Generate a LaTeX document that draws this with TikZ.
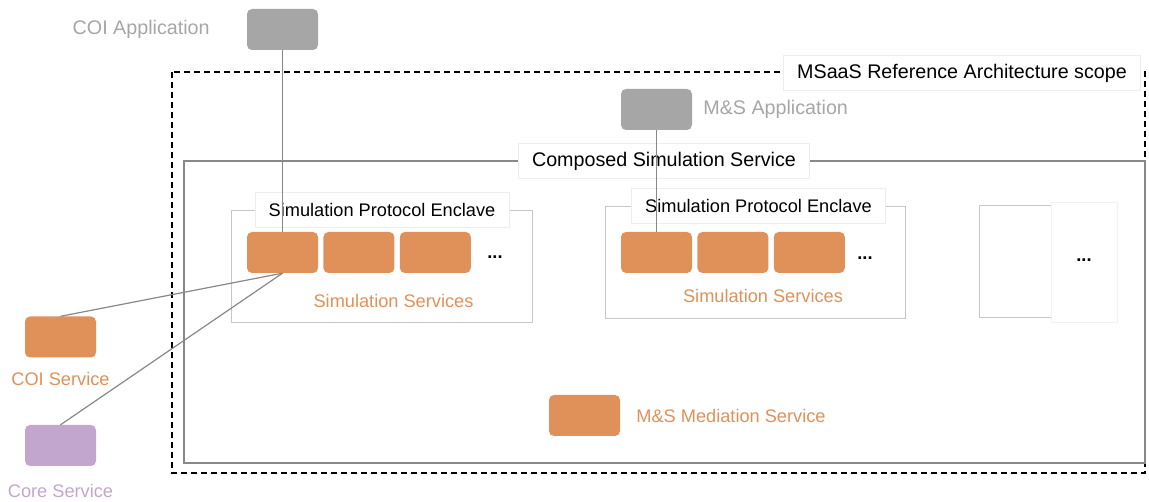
\documentclass[tikz,border=0pt]{standalone}
\usepackage{fontspec}
\setmainfont{Liberation Sans}
\usetikzlibrary{positioning}

\definecolor{simorange}{RGB}{224,145,90}
\definecolor{appgray}{RGB}{166,166,166}
\definecolor{corepurple}{RGB}{195,166,205}
\definecolor{linegray}{RGB}{136,136,136}

\begin{document}
\begin{tikzpicture}[x=1pt, y=-1pt, every node/.style={font=\fontsize{18.2}{22}\selectfont},
      big/.style={font=\fontsize{19.7}{23}\selectfont},
      svc/.style={rectangle, rounded corners=5pt, minimum width=71pt, minimum height=41pt, inner sep=0pt, fill=simorange},
      app/.style={svc, fill=appgray},
      core/.style={svc, fill=corepurple},
      tag/.style={rectangle, fill=white, draw=black!7, line width=0.6pt, minimum height=35pt, inner xsep=13.5pt},
      caption/.style={inner sep=0pt},
      enclave/.style={draw=black!22, line width=0.8pt},
      link/.style={draw=linegray, line width=1.2pt}]

    \useasboundingbox (0,0) rectangle (1149,502);

    % scopes
    \draw[black, line width=1.5pt, dash pattern=on 6pt off 4pt] (172,72) rectangle (1145,473);
    \draw[linegray, line width=1.5pt] (184,161) rectangle (1145,463);
    \draw[enclave] (231,210) rectangle (532,322);
    \draw[enclave] (605,206) rectangle (905,318);
    \draw[enclave] (979,205) rectangle (1117,317);
    \fill[white] (1051,202) rectangle (1117,322);
    \draw[black!5, line width=0.6pt] (1051,202) rectangle (1117,322);

    \node [tag, big] (scope) at (962,73) {MSaaS Reference Architecture scope};
    \node [tag, big] (composed) at (664,161) {Composed Simulation Service};
    \node [tag] (encA) at (382,209.5) {Simulation Protocol Enclave};
    \node [tag] (encB) at (758.5,205.5) {Simulation Protocol Enclave};

    % applications
    \node [app] (coiapp) at (282.5,29.5) {};
    \node [caption, big, text=appgray, left=37pt of coiapp] (coiapplbl) {COI Application};
    \node [app] (msapp) at (656.5,109.5) {};
    \node [caption, big, text=appgray, right=11pt of msapp] (msapplbl) {M\&S Application};

    % simulation services
    \node [svc] (simA1) at (282.5,252.5) {};
    \node [svc, right=5pt of simA1] (simA2) {};
    \node [svc, right=5pt of simA2] (simA3) {};
    \node [caption] (dotsA) at (495,257) {\textbf{...}};
    \node [caption, text=simorange] (simAlbl) at (393.5,301) {Simulation Services};

    \node [svc] (simB1) at (656.5,252.5) {};
    \node [svc, right=5pt of simB1] (simB2) {};
    \node [svc, right=5pt of simB2] (simB3) {};
    \node [caption] (dotsB) at (865,258) {\textbf{...}};
    \node [caption, text=simorange] (simBlbl) at (763,296) {Simulation Services};

    \node [caption] (dotsC) at (1084,260) {\textbf{...}};

    % mediation
    \node [svc] (med) at (584.5,415.5) {};
    \node [caption, text=simorange, right=16pt of med] (medlbl) {M\&S Mediation Service};

    % outside services
    \node [svc] (coisvc) at (60.5,337) {};
    \node [caption, text=simorange, below=14pt of coisvc] (coisvclbl) {COI Service};
    \node [core] (coresvc) at (60.5,445.5) {};
    \node [caption, text=corepurple, below=18pt of coresvc] (coresvclbl) {Core Service};

    % links
    \draw[link] (coiapp.south) -- (simA1.north);
    \draw[link] (msapp.south) -- (simB1.north);
    \draw[link] (simA1.south) -- (coisvc.north);
    \draw[link] (simA1.south) -- (coresvc.north);

\end{tikzpicture}
\end{document}
